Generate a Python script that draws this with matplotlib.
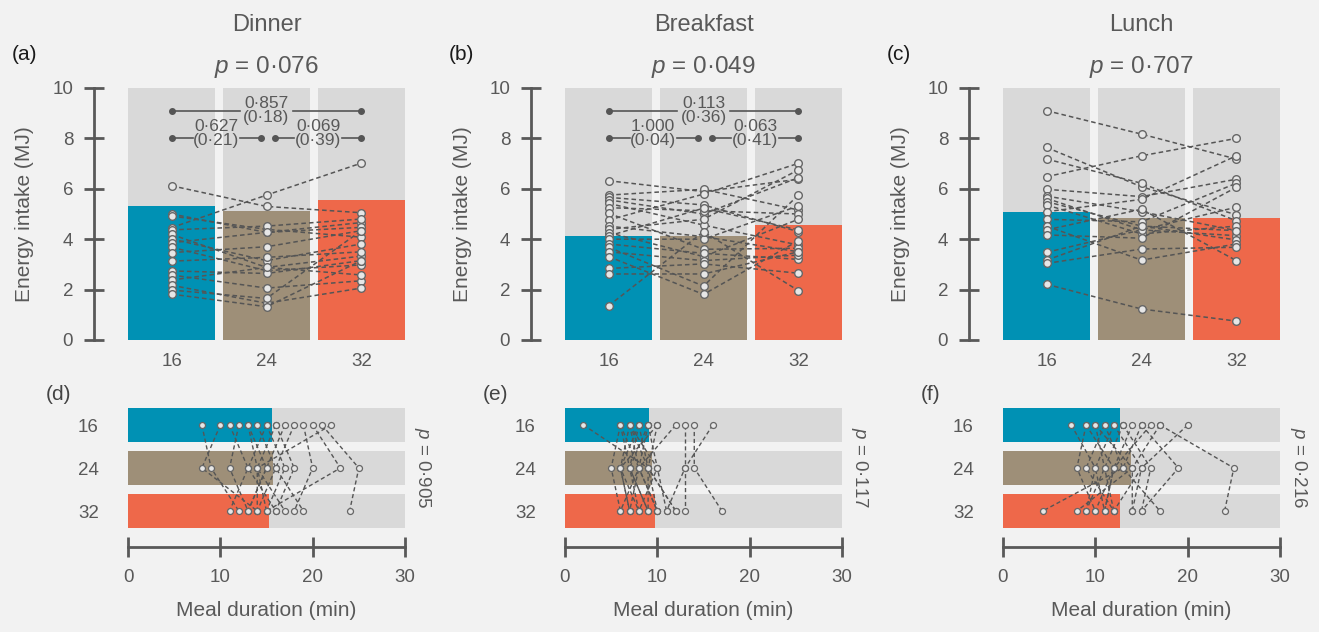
import matplotlib.pyplot as plt
import numpy as np

plt.rcParams['font.family'] = ['Liberation Sans', 'DejaVu Sans']
plt.rcParams['mathtext.fontset'] = 'custom'
plt.rcParams['mathtext.it'] = 'Liberation Sans:italic'
plt.rcParams['mathtext.rm'] = 'Liberation Sans'

# ---- data ----
meals = ['Dinner', 'Breakfast', 'Lunch']
groups = ['16', '24', '32']
energy_p = ['0·076', '0·049', '0·707']
duration_p = ['0·905', '0·117', '0·216']

# bar heights (MJ)
dinner_bar = [5.33, 5.13, 5.56]
breakfast_bar = [4.14, 4.14, 4.56]
lunch_bar = [5.06, 4.86, 4.83]

# individual energy intake (MJ), one entry per participant
dinner_16 = [6.12, 5.00, 4.92, 4.46, 4.37, 4.19, 4.01, 3.86, 3.68, 3.47, 3.13, 2.74, 2.58, 2.38, 2.17, 1.98, 1.82]
dinner_24 = [5.30, 4.27, 4.39, 5.75, 4.52, 2.88, 3.15, 4.27, 2.75, 3.70, 3.28, 2.64, 2.06, 2.88, 1.46, 1.65, 1.32]
dinner_32 = [5.05, 4.66, 4.08, 7.02, 4.80, 3.33, 3.81, 4.47, 2.98, 4.34, 3.50, 3.15, 2.35, 2.58, 2.06, 4.34, 3.15]

breakfast_16 = [6.32, 5.75, 5.66, 5.56, 5.42, 5.25, 5.03, 4.76, 4.52, 4.39, 4.26, 4.13, 4.00, 3.81, 3.68, 3.50, 3.31, 2.84, 2.62, 1.36]
breakfast_24 = [5.89, 5.98, 5.36, 5.00, 4.56, 5.13, 3.60, 5.79, 4.10, 4.79, 3.31, 5.23, 4.00, 3.44, 2.14, 3.15, 1.81, 3.02, 2.62, 4.30]
breakfast_32 = [6.38, 5.16, 4.30, 6.44, 3.77, 5.00, 3.64, 7.01, 3.50, 6.75, 4.79, 4.37, 5.32, 3.20, 5.75, 3.37, 3.94, 2.65, 3.50, 1.96]

lunch_16 = [9.10, 7.64, 7.18, 6.48, 5.98, 5.71, 5.62, 5.49, 5.36, 5.09, 4.79, 4.52, 4.37, 4.17, 3.48, 3.17, 3.04, 2.21]
lunch_24 = [8.17, 6.08, 6.22, 7.31, 5.69, 5.09, 4.37, 4.52, 4.21, 5.58, 4.69, 3.17, 5.19, 4.04, 4.37, 4.52, 3.61, 1.23]
lunch_32 = [7.18, 4.97, 4.73, 8.00, 6.38, 4.34, 4.14, 3.97, 4.52, 7.31, 6.22, 3.81, 3.15, 6.06, 5.27, 4.34, 3.68, 0.75]

# pairwise comparisons: (left, right, p, effect)
dinner_cmp = [(0, 2, '0·857', '(0·18)'), (0, 1, '0·627', '(0·21)'), (1, 2, '0·069', '(0·39)')]
breakfast_cmp = [(0, 2, '0·113', '(0·36)'), (0, 1, '1·000', '(0·04)'), (1, 2, '0·063', '(0·41)')]

# meal duration bars (min)
dinner_dur_bar = [15.6, 15.7, 15.25]
breakfast_dur_bar = [9.06, 9.4, 9.75]
lunch_dur_bar = [12.7, 13.9, 12.7]

# individual meal durations (min)
dinner_d16 = [8, 10, 11, 12, 13, 13, 14, 15, 15, 16, 16, 17, 18, 19, 20, 21, 22]
dinner_d24 = [9, 8, 13, 11, 14, 15, 16, 13, 17, 14, 18, 15, 16, 20, 23, 25, 14]
dinner_d32 = [12, 14, 11, 13, 15, 13, 14, 16, 15, 17, 16, 13, 19, 18, 15, 24, 14]

breakfast_d16 = [2, 6, 6, 6, 7, 7, 7, 7, 8, 8, 8, 9, 9, 9, 10, 10, 12, 13, 14, 16]
breakfast_d24 = [9, 7, 8, 5, 9, 6, 8, 10, 7, 6, 9, 8, 10, 7, 9, 6, 8, 13, 14, 13]
breakfast_d32 = [10, 8, 7, 6, 9, 8, 10, 11, 9, 7, 12, 6, 8, 9, 12, 7, 10, 13, 17, 11]

lunch_d16 = [7.4, 9, 9, 10, 10, 11, 11, 12, 12, 13, 13, 14, 15, 15, 16, 17, 17, 20]
lunch_d24 = [10, 12, 8, 11, 14, 9, 13, 10, 15, 11, 16, 12, 13, 19, 12, 25, 14, 15]
lunch_d32 = [9, 11, 10, 12, 8, 12, 4.3, 11, 14, 9, 15, 10, 17, 15, 11, 24, 14, 12]

energy_bars = [dinner_bar, breakfast_bar, lunch_bar]
energy_ind = [(dinner_16, dinner_24, dinner_32),
              (breakfast_16, breakfast_24, breakfast_32),
              (lunch_16, lunch_24, lunch_32)]
comparisons = [dinner_cmp, breakfast_cmp, []]
dur_bars = [dinner_dur_bar, breakfast_dur_bar, lunch_dur_bar]
dur_ind = [(dinner_d16, dinner_d24, dinner_d32),
           (breakfast_d16, breakfast_d24, breakfast_d32),
           (lunch_d16, lunch_d24, lunch_d32)]

# ---- styling ----
W, H = 1319, 632
BG = '#f2f2f2'
GREY = '#d9d9d9'
COLS = ['#0091b4', '#9e8f78', '#ee684a']
TXT = '#595959'
AX = '#595959'
LN = '#555555'
TICK_FS = 13.5


def box(x0, y0, x1, y1):
    return [x0 / W, 1 - y1 / H, (x1 - x0) / W, (y1 - y0) / H]


fig = plt.figure(figsize=(W / 100, H / 100), dpi=100, facecolor=BG)

lefts = [128, 565, 1003]
letters_top = ['(a)', '(b)', '(c)']
letters_bot = ['(d)', '(e)', '(f)']
pos = np.arange(3)

for k in range(3):
    L = lefts[k]
    R = L + 277
    cx = (L + R) / 2

    # ---------- energy intake ----------
    ax = fig.add_axes(box(L, 88, R, 340))
    ax.patch.set_visible(False)
    ax.bar(pos, 10, width=0.91, color=GREY, zorder=0)
    ax.bar(pos, energy_bars[k], width=0.91, color=COLS, zorder=1)
    e16, e24, e32 = energy_ind[k]
    for a, b, c in zip(e16, e24, e32):
        ax.plot(pos, [a, b, c], ls=(0, (3, 2)), lw=1.1, color=LN, marker='o',
                ms=5.5, mfc='#e6e6e6', mec='#666666', mew=1, zorder=3)

    for (i0, i1, ptxt, etxt) in comparisons[k]:
        if i1 - i0 == 2:
            y, x0, x1, gap, ty = 9.1, 0, 2, 0.28, 9.1
        else:
            y, gap, ty = 8.0, 0.25, 8.2
            x0 = i0 + (0.0 if i0 == 0 else 0.09)
            x1 = i1 - (0.06 if i1 == 1 else 0.0)
        mid = (x0 + x1) / 2
        ax.plot([x0, mid - gap], [y, y], color='#555555', lw=1.2, zorder=2)
        ax.plot([mid + gap, x1], [y, y], color='#555555', lw=1.2, zorder=2)
        ax.plot([x0, x1], [y, y], ls='none', marker='o', ms=4, color='#555555', zorder=2)
        ax.text(mid, ty, ptxt + '\n' + etxt, ha='center', va='center', fontsize=12.5,
                color=TXT, linespacing=0.95, zorder=4)

    ax.set_xlim(-0.46, 2.46)
    ax.set_ylim(0, 10)
    for s in ['top', 'right', 'bottom']:
        ax.spines[s].set_visible(False)
    ax.spines['left'].set_position(('outward', 24.5))
    ax.spines['left'].set_color(AX)
    ax.spines['left'].set_linewidth(2)
    ax.set_yticks(range(0, 11, 2))
    ax.tick_params(axis='y', direction='inout', length=14, width=2, color=AX,
                   labelsize=TICK_FS, labelcolor=TXT, pad=8)
    ax.set_xticks(pos)
    ax.set_xticklabels(groups)
    ax.tick_params(axis='x', length=0, labelsize=TICK_FS, labelcolor=TXT, pad=9)

    fig.text(cx / W, 1 - 25 / H, meals[k], ha='center', va='center', fontsize=17, color=TXT)
    fig.text(cx / W, 1 - 67 / H, r'$p$ = ' + energy_p[k], ha='center', va='center',
             fontsize=17.5, color=TXT)
    fig.text((L - 116) / W, 1 - 55 / H, letters_top[k], ha='left', va='center',
             fontsize=15, color='#1a1a1a')
    fig.text((L - 103) / W, 1 - 214 / H, 'Energy intake (MJ)', rotation=90,
             ha='center', va='center', fontsize=15, color=TXT)

    # ---------- meal duration ----------
    bx = fig.add_axes(box(L, 403.5, R, 532.5))
    bx.patch.set_visible(False)
    bx.barh(pos, 30, height=0.81, color=GREY, zorder=0)
    bx.barh(pos, dur_bars[k], height=0.81, color=COLS, zorder=1)
    d16, d24, d32 = dur_ind[k]
    for a, b, c in zip(d16, d24, d32):
        bx.plot([a, b, c], pos, ls=(0, (3, 2)), lw=1.0, color=LN, marker='o',
                ms=4.3, mfc='#e6e6e6', mec='#666666', mew=0.9, zorder=3)
    bx.set_xlim(0, 30)
    bx.set_ylim(2.5, -0.5)
    for s in ['top', 'right', 'left']:
        bx.spines[s].set_visible(False)
    bx.spines['bottom'].set_position(('outward', 10.5))
    bx.spines['bottom'].set_color(AX)
    bx.spines['bottom'].set_linewidth(2)
    bx.set_xticks([0, 10, 20, 30])
    bx.tick_params(axis='x', direction='inout', length=14, width=2, color=AX,
                   labelsize=TICK_FS, labelcolor=TXT, pad=9)
    bx.set_yticks(pos)
    bx.set_yticklabels(groups)
    bx.tick_params(axis='y', length=0, labelsize=TICK_FS, labelcolor=TXT, pad=21)

    fig.text(cx / W, 1 - 610 / H, 'Meal duration (min)', ha='center', va='center',
             fontsize=15, color=TXT)
    fig.text((R + 18) / W, 1 - 468 / H, r'$p$ = ' + duration_p[k], rotation=270,
             ha='center', va='center', fontsize=13.5, color=TXT)
    fig.text((L - 82) / W, 1 - 395 / H, letters_bot[k], ha='left', va='center',
             fontsize=15, color='#444444')

fig.savefig('out.png', dpi=100, facecolor=BG)
